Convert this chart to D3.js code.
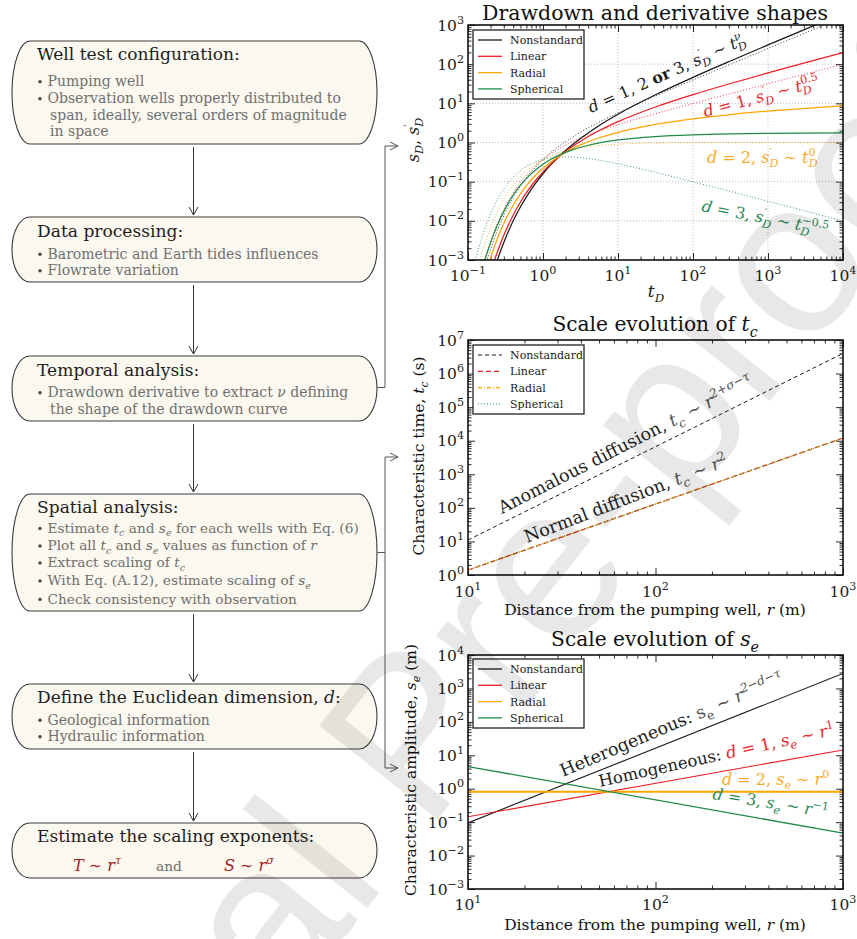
<!DOCTYPE html>
<html>
<head>
<meta charset="utf-8">
<script src="https://cdn.jsdelivr.net/npm/d3@7"></script>
<style>
  body { margin: 0; background: #fff; }
  svg text { font-family: "DejaVu Serif", serif; }
</style>
</head>
<body>
<svg id="fig" width="857" height="939"></svg>
<script>
// ---------- Drawdown and derivative shapes (dimensionless time) ----------
const tD = [0.1, 0.1259, 0.1585, 0.1995, 0.2512, 0.3162, 0.3981, 0.5012, 0.631, 0.7943,
            1, 1.259, 1.585, 1.995, 2.512, 3.162, 5.623, 10, 31.62, 100, 316.2, 1000, 3162, 10000];

// drawdown s_D
const sNonstandard = [5e-7, 7.2e-6, 5.26e-5, 2.78e-4, 1.118e-3, 3.605e-3, 9.74e-3, 0.02282, 0.04761, 0.09046,
                      0.1593, 0.2633, 0.4133, 0.6219, 0.9033, 1.274, 2.727, 5.277, 16.57, 46.01, 120.8, 309.5, 784.0, 1976];
const sLinear      = [1e-6, 1.35e-5, 9.2e-5, 4.75e-4, 1.782e-3, 5.406e-3, 0.01373, 0.03034, 0.05965, 0.1071,
                      0.1781, 0.2785, 0.4133, 0.5885, 0.8094, 1.0805, 2.017, 3.402, 8.056, 16.65, 32.13, 59.76, 109.0, 196.5];
const sRadial      = [4.16e-6, 4.01e-5, 2.526e-4, 1.132e-3, 3.868e-3, 0.01063, 0.02455, 0.04934, 0.08859, 0.1455,
                      0.2194, 0.3139, 0.4273, 0.5583, 0.7055, 0.8670, 1.320, 1.823, 2.908, 4.038, 5.183, 6.332, 7.482, 8.633];
const sSpherical   = [1.36e-5, 1.196e-4, 6.746e-4, 2.736e-3, 8.465e-3, 0.02111, 0.04431, 0.08111, 0.1330, 0.1995,
                      0.2788, 0.3678, 0.4632, 0.5615, 0.6597, 0.7559, 0.9765, 1.1605, 1.4205, 1.5731, 1.6601, 1.7092, 1.7369, 1.7525];

// drawdown derivative s'_D
const dNonstandard = [7.2e-6, 6.76e-5, 4.167e-4, 1.834e-3, 6.181e-3, 0.01685, 0.03882, 0.07825, 0.1418, 0.2362,
                      0.3679, 0.5433, 0.7691, 1.0528, 1.4032, 1.8309, 3.3325, 5.7091, 15.356, 39.415, 99.684, 250.94, 630.76, 1584.7];
const dLinear      = [1.44e-5, 1.26e-4, 7.24e-4, 2.974e-3, 9.356e-3, 0.02381, 0.05118, 0.09628, 0.1628, 0.2531,
                      0.3679, 0.5070, 0.6698, 0.8557, 1.0644, 1.2962, 1.9851, 2.8613, 5.4484, 9.9005, 17.727, 31.591, 56.216, 99.99];
const dRadial      = [4.54e-5, 3.55e-4, 1.818e-3, 6.657e-3, 0.01867, 0.04233, 0.08112, 0.1360, 0.2050, 0.2839,
                      0.3679, 0.4519, 0.5321, 0.6058, 0.6716, 0.7289, 0.8371, 0.9048, 0.9689, 0.9900, 0.9968, 0.9990, 0.9997, 0.9999];
const dSpherical   = [1.436e-4, 1.001e-3, 4.567e-3, 0.01490, 0.03725, 0.0753, 0.1285, 0.1921, 0.2580, 0.3186,
                      0.3679, 0.4028, 0.4226, 0.4289, 0.4238, 0.4099, 0.3530, 0.2861, 0.1723, 0.0990, 0.05605, 0.03159, 0.01778, 0.0100];

// ---------- Scale evolution of t_c and s_e ----------
const rDist = [10, 1000];
const tcNonstandard = [11, 4.0e6];
const tcLinear      = [1.4, 1.2e4];
const tcRadial      = [1.4, 1.2e4];
const tcSpherical   = [1.4, 1.2e4];

const seNonstandard = [0.095, 2800];
const seLinear      = [0.145, 14.4];
const seRadial      = [0.81, 0.81];
const seSpherical   = [4.6, 0.047];

const seriesNames = ["Nonstandard", "Linear", "Radial", "Spherical"];

// tick exponents
const expTopX = [-1, 0, 1, 2, 3, 4];
const expTopY = [-3, -2, -1, 0, 1, 2, 3];
const expDistX = [1, 2, 3];
const expTcY = [0, 1, 2, 3, 4, 5, 6, 7];
const expSeY = [-3, -2, -1, 0, 1, 2, 3, 4];

// ---------- styling ----------
const COL = { black: "#1a1a1a", red: "#ee1d25", orange: "#ffa500", green: "#218a4a" };
const TXT = { red: "#e8262d", orange: "#f7ab2a", green: "#2b8a55", grey: "#555" };

const svg = d3.select("#fig");

// text with italic / sub / superscript pieces; "under" stacks a subscript below the previous superscript
function rich(g, x, y, parts, o) {
  const size = o.size;
  const t = g.append("text").attr("x", x).attr("y", y)
    .attr("font-size", size).attr("fill", o.fill || "#111");
  if (o.anchor) t.attr("text-anchor", o.anchor);
  if (o.family) t.style("font-family", o.family);
  if (o.rotate) t.attr("transform", `rotate(${o.rotate},${x},${y})`);
  let shift = 0, prev = null;
  parts.forEach(p => {
    if (typeof p === "string") p = { t: p };
    const target = p.sub ? size * 0.28 : p.sup ? -size * 0.42 : 0;
    const s = t.append("tspan").attr("dy", target - shift).text(p.t);
    shift = target;
    if (p.sub || p.sup) s.attr("font-size", size * 0.7);
    if (p.i) s.attr("font-style", "italic");
    if (p.b) s.attr("font-weight", "bold");
    if (p.c) s.attr("fill", p.c);
    if (p.under && prev) s.attr("dx", -prev.node().getComputedTextLength());
    prev = s;
  });
  return t;
}

function powLabel(g, x, y, e, anchor, size) {
  const t = g.append("text").attr("x", x).attr("y", y).attr("font-size", size)
    .attr("text-anchor", anchor).attr("fill", "#222");
  t.append("tspan").text("10");
  t.append("tspan").attr("dy", -size * 0.45).attr("font-size", size * 0.72)
    .text(e < 0 ? "\u2212" + (-e) : String(e));
}

// log-log panel: frame, ticks on four sides, tick labels, optional grid
function panel(x, y, xe, ye, opt) {
  const g = svg.append("g");
  const [xl, xr] = x.range();
  const [yb, yt] = y.range();
  const isMajor = v => Math.abs(Math.log10(v) - Math.round(Math.log10(v))) < 1e-9;
  const xMaj = x.ticks().filter(isMajor), xMin = x.ticks().filter(v => !isMajor(v));
  const yMaj = y.ticks().filter(isMajor), yMin = y.ticks().filter(v => !isMajor(v));

  if (opt.grid) {
    const gg = g.append("g").attr("stroke", "#a8a8a8").attr("stroke-width", 0.8)
      .attr("stroke-dasharray", "1,2");
    xMaj.filter(v => x(v) > xl + 1 && x(v) < xr - 1).forEach(v =>
      gg.append("line").attr("x1", x(v)).attr("x2", x(v)).attr("y1", yt).attr("y2", yb));
    yMaj.filter(v => y(v) < yb - 1 && y(v) > yt + 1).forEach(v =>
      gg.append("line").attr("y1", y(v)).attr("y2", y(v)).attr("x1", xl).attr("x2", xr));
  }

  const ax = (axis, tx, ty, vals, len) => {
    const a = g.append("g").attr("transform", `translate(${tx},${ty})`)
      .call(axis.tickValues(vals).tickSize(-len).tickFormat(""));
    a.select(".domain").remove();
    a.selectAll("line").attr("stroke", "#111").attr("stroke-width", 0.9);
  };
  ax(d3.axisBottom(x), 0, yb, xMin, 3.5); ax(d3.axisBottom(x), 0, yb, xMaj, 7);
  ax(d3.axisTop(x), 0, yt, xMin, 3.5);    ax(d3.axisTop(x), 0, yt, xMaj, 7);
  ax(d3.axisLeft(y), xl, 0, yMin, 3.5);   ax(d3.axisLeft(y), xl, 0, yMaj, 7);
  ax(d3.axisRight(y), xr, 0, yMin, 3.5);  ax(d3.axisRight(y), xr, 0, yMaj, 7);

  xe.forEach(e => powLabel(g, x(Math.pow(10, e)), yb + opt.xLabDy, e, "middle", 15.5));
  ye.forEach(e => powLabel(g, xl - 4, y(Math.pow(10, e)) + 5.5, e, "end", 15.5));

  const id = "clip" + opt.id;
  svg.append("clipPath").attr("id", id).append("rect")
    .attr("x", xl).attr("y", yt).attr("width", xr - xl).attr("height", yb - yt);
  const plot = svg.append("g").attr("clip-path", `url(#${id})`);

  return { g, plot, frame: () => svg.append("rect").attr("x", xl).attr("y", yt)
      .attr("width", xr - xl).attr("height", yb - yt)
      .attr("fill", "none").attr("stroke", "#111").attr("stroke-width", 1.6) };
}

function legend(x0, y0, items) {
  const g = svg.append("g");
  g.append("rect").attr("x", x0).attr("y", y0).attr("width", 111).attr("height", 69)
    .attr("fill", "#fff").attr("stroke", "#222").attr("stroke-width", 1.3);
  items.forEach((it, i) => {
    const yy = y0 + 10 + i * 16.3;
    g.append("line").attr("x1", x0 + 5).attr("x2", x0 + 29).attr("y1", yy).attr("y2", yy)
      .attr("stroke", it.color).attr("stroke-width", it.w || 1.3)
      .attr("stroke-dasharray", it.dash || null);
    g.append("text").attr("x", x0 + 37).attr("y", yy + 4).attr("font-size", 11)
      .attr("fill", "#222").text(it.name);
  });
}

// s'_D with the prime and subscript stacked
const sPrimeD = [{ t: "s", i: 1 }, { t: "\u2032", sup: 1 }, { t: "D", sub: 1, i: 1, under: 1 }];

// ================= Panel 1: drawdown and derivative shapes =================
{
  const x = d3.scaleLog().domain([0.1, 1e4]).range([468, 843]);
  const y = d3.scaleLog().domain([1e-3, 1e3]).range([260, 25]);
  const p = panel(x, y, expTopX, expTopY, { grid: true, xLabDy: 21, id: "a" });
  const line = d3.line().x(d => x(d[0])).y(d => y(d[1])).curve(d3.curveMonotoneX);
  const shapes = [
    { c: COL.black, s: sNonstandard, d: dNonstandard },
    { c: COL.red, s: sLinear, d: dLinear },
    { c: COL.orange, s: sRadial, d: dRadial },
    { c: COL.green, s: sSpherical, d: dSpherical }
  ];
  shapes.forEach(sh => {
    p.plot.append("path").datum(d3.zip(tD, sh.d)).attr("d", line).attr("fill", "none")
      .attr("stroke", sh.c).attr("stroke-width", 1).attr("stroke-dasharray", "1,2").attr("opacity", 0.85);
  });
  shapes.forEach(sh => {
    p.plot.append("path").datum(d3.zip(tD, sh.s)).attr("d", line).attr("fill", "none")
      .attr("stroke", sh.c).attr("stroke-width", 1.25);
  });
  p.frame();
  legend(473, 30, seriesNames.map((n, i) => ({ name: n, color: shapes[i].c })));

  const A = svg.append("g");
  rich(A, 591, 113, [{ t: "d", i: 1 }, " = 1, 2 ", { t: "or", b: 1 }, " 3, ", ...sPrimeD, " \u223C ",
    { t: "t", i: 1 }, { t: "\u03BD", sup: 1, i: 1 }, { t: "D", sub: 1, i: 1, under: 1 }],
    { size: 16, fill: "#222", rotate: -24 });
  rich(A, 705, 117, [{ t: "d", i: 1 }, " = 1, ", ...sPrimeD, " \u223C ", { t: "t", i: 1 },
    { t: "0.5", sup: 1 }, { t: "D", sub: 1, i: 1, under: 1 }], { size: 16, fill: TXT.red, rotate: -15 });
  rich(A, 707, 163, [{ t: "d", i: 1 }, " = 2, ", ...sPrimeD, " \u223C ", { t: "t", i: 1 },
    { t: "0", sup: 1 }, { t: "D", sub: 1, i: 1, under: 1 }], { size: 16, fill: TXT.orange });
  rich(A, 701, 211, [{ t: "d", i: 1 }, " = 3, ", ...sPrimeD, " \u223C ", { t: "t", i: 1 },
    { t: "\u22120.5", sup: 1 }, { t: "D", sub: 1, i: 1, under: 1 }], { size: 16, fill: TXT.green, rotate: 11 });

  // titles and axis labels
  svg.append("text").attr("x", 655).attr("y", 20).attr("text-anchor", "middle")
    .attr("font-size", 20.5).attr("fill", "#111").text("Drawdown and derivative shapes");
  rich(svg, 656, 297, [{ t: "t", i: 1 }, { t: "D", sub: 1, i: 1 }], { size: 17, anchor: "middle", fill: "#222" });
  rich(svg, 419, 140, [{ t: "s", i: 1 }, { t: "D", sub: 1, i: 1 }, ", ", ...sPrimeD],
    { size: 16, anchor: "middle", rotate: -90, fill: "#222" });
}

// ================= Panel 2: scale evolution of t_c =================
{
  const x = d3.scaleLog().domain([10, 1000]).range([468, 843]);
  const y = d3.scaleLog().domain([1, 1e7]).range([575, 340]);
  const p = panel(x, y, expDistX, expTcY, { grid: false, xLabDy: 22, id: "b" });
  const line = d3.line().x(d => x(d[0])).y(d => y(d[1]));
  const sets = [
    { v: tcNonstandard, c: COL.black, dash: "4,3", w: 1 },
    { v: tcLinear, c: COL.red, dash: "5,3", w: 1.3 },
    { v: tcRadial, c: COL.orange, dash: "4,2,1,2", w: 1.1 },
    { v: tcSpherical, c: COL.green, dash: "1,2", w: 1 }
  ];
  sets.forEach(s => p.plot.append("path").datum(d3.zip(rDist, s.v)).attr("d", line)
    .attr("fill", "none").attr("stroke", s.c).attr("stroke-width", s.w).attr("stroke-dasharray", s.dash));
  p.frame();
  legend(473, 345, seriesNames.map((n, i) => ({ name: n, color: sets[i].c, dash: sets[i].dash, w: sets[i].w })));

  rich(svg, 502, 514, ["Anomalous diffusion, ", { t: "t", i: 1, c: TXT.grey }, { t: "c", sub: 1, i: 1, c: TXT.grey },
    { t: " \u223C ", c: TXT.grey }, { t: "r", i: 1, c: TXT.grey }, { t: "2+\u03C3\u2212\u03C4", sup: 1, i: 1, c: TXT.grey }],
    { size: 17.5, fill: "#222", rotate: -27 });
  rich(svg, 527, 543, ["Normal diffusion, ", { t: "t", i: 1, c: TXT.grey }, { t: "c", sub: 1, i: 1, c: TXT.grey },
    { t: " \u223C ", c: TXT.grey }, { t: "r", i: 1, c: TXT.grey }, { t: "2", sup: 1, c: TXT.grey }],
    { size: 17.5, fill: "#222", rotate: -21 });

  rich(svg, 655, 331, ["Scale evolution of ", { t: "t", i: 1 }, { t: "c", sub: 1, i: 1 }],
    { size: 20.2, anchor: "middle", fill: "#111" });
  rich(svg, 655, 615, ["Distance from the pumping well, ", { t: "r", i: 1 }, " (m)"],
    { size: 15.5, anchor: "middle", fill: "#111" });
  rich(svg, 424, 456, ["Characteristic time, ", { t: "t", i: 1 }, { t: "c", sub: 1, i: 1 }, " (s)"],
    { size: 15.5, anchor: "middle", rotate: -90, fill: "#111" });
}

// ================= Panel 3: scale evolution of s_e =================
{
  const x = d3.scaleLog().domain([10, 1000]).range([468, 843]);
  const y = d3.scaleLog().domain([1e-3, 1e4]).range([889, 655]);
  const p = panel(x, y, expDistX, expSeY, { grid: false, xLabDy: 21, id: "c" });
  const line = d3.line().x(d => x(d[0])).y(d => y(d[1]));
  const sets = [
    { v: seNonstandard, c: COL.black, w: 1.1 },
    { v: seLinear, c: COL.red, w: 1.1 },
    { v: seRadial, c: COL.orange, w: 1.8 },
    { v: seSpherical, c: COL.green, w: 1.3 }
  ];
  sets.forEach(s => p.plot.append("path").datum(d3.zip(rDist, s.v)).attr("d", line)
    .attr("fill", "none").attr("stroke", s.c).attr("stroke-width", s.w));
  p.frame();
  legend(473, 659, seriesNames.map((n, i) => ({ name: n, color: sets[i].c })));

  const se = [{ t: "s", i: 1 }, { t: "e", sub: 1, i: 1 }];
  rich(svg, 563, 777, ["Heterogeneous: ", { t: "s", c: TXT.grey }, { t: "e", sub: 1, c: TXT.grey },
    { t: " \u223C ", c: TXT.grey }, { t: "r", i: 1, c: TXT.grey }, { t: "2\u2212d\u2212\u03C4", sup: 1, i: 1, c: TXT.grey }],
    { size: 17.5, fill: "#222", rotate: -23 });
  rich(svg, 600, 787, ["Homogeneous: ", { t: "d", i: 1, c: TXT.red }, { t: " = 1, ", c: TXT.red },
    { t: "s", i: 1, c: TXT.red }, { t: "e", sub: 1, i: 1, c: TXT.red }, { t: " \u223C ", c: TXT.red },
    { t: "r", i: 1, c: TXT.red }, { t: "1", sup: 1, c: TXT.red }], { size: 16.5, fill: "#222", rotate: -12.5 });
  rich(svg, 722, 785, [{ t: "d", i: 1 }, " = 2, ", ...se, " \u223C ", { t: "r", i: 1 }, { t: "0", sup: 1 }],
    { size: 16, fill: TXT.orange });
  rich(svg, 712, 799, [{ t: "d", i: 1 }, " = 3, ", ...se, " \u223C ", { t: "r", i: 1 }, { t: "\u22121", sup: 1 }],
    { size: 16, fill: TXT.green, rotate: 9 });

  rich(svg, 655, 646, ["Scale evolution of ", { t: "s", i: 1 }, { t: "e", sub: 1, i: 1 }],
    { size: 20.2, anchor: "middle", fill: "#111" });
  rich(svg, 655, 930, ["Distance from the pumping well, ", { t: "r", i: 1 }, " (m)"],
    { size: 15.5, anchor: "middle", fill: "#111" });
  rich(svg, 416, 770, ["Characteristic amplitude, ", { t: "s", i: 1 }, { t: "e", sub: 1, i: 1 }, " (m)"],
    { size: 15.5, anchor: "middle", rotate: -90, fill: "#111" });
}

// ================= Workflow boxes =================
const BOX_FILL = "#fbf8ef", BOX_LINE = "#3a3a3a", BUL = "#707070";
const boxes = [
  { y0: 41, y1: 144, title: ["Well test configuration:"], tY: 60, lines: [
    { y: 86, p: ["Pumping well"] },
    { y: 103, p: ["Observation wells properly distributed to"] },
    { y: 120, p: ["span, ideally, several orders of magnitude"], cont: true },
    { y: 136, p: ["in space"], cont: true }] },
  { y0: 217, y1: 282, title: ["Data processing:"], tY: 237, lines: [
    { y: 258.5, p: ["Barometric and Earth tides influences"] },
    { y: 275, p: ["Flowrate variation"] }] },
  { y0: 356, y1: 421, title: ["Temporal analysis:"], tY: 375.5, lines: [
    { y: 397, p: ["Drawdown derivative to extract ", { t: "\u03BD", i: 1 }, " defining"] },
    { y: 413.5, p: ["the shape of the drawdown curve"], cont: true }] },
  { y0: 494, y1: 611, title: ["Spatial analysis:"], tY: 512.5, bsize: 13.7, lines: [
    { y: 532.5, p: ["Estimate ", { t: "t", i: 1 }, { t: "c", sub: 1, i: 1 }, " and ", { t: "s", i: 1 }, { t: "e", sub: 1, i: 1 }, " for each wells with Eq. (6)"] },
    { y: 550, p: ["Plot all ", { t: "t", i: 1 }, { t: "c", sub: 1, i: 1 }, " and ", { t: "s", i: 1 }, { t: "e", sub: 1, i: 1 }, " values as function of ", { t: "r", i: 1 }] },
    { y: 567, p: ["Extract scaling of ", { t: "t", i: 1 }, { t: "c", sub: 1, i: 1 }] },
    { y: 585, p: ["With Eq. (A.12), estimate scaling of ", { t: "s", i: 1 }, { t: "e", sub: 1, i: 1 }] },
    { y: 603.5, p: ["Check consistency with observation"] }] },
  { y0: 684, y1: 749, title: ["Define the Euclidean dimension, ", { t: "d", i: 1 }, ":"], tY: 703, lines: [
    { y: 724.5, p: ["Geological information"] },
    { y: 741, p: ["Hydraulic information"] }] },
  { y0: 823, y1: 878, title: ["Estimate the scaling exponents:"], tY: 841.5, lines: [] }
];

const flow = svg.append("g");
boxes.forEach(b => {
  flow.append("rect").attr("x", 12).attr("y", b.y0).attr("width", 365).attr("height", b.y1 - b.y0)
    .attr("rx", 18).attr("ry", (b.y1 - b.y0) / 2)
    .attr("fill", BOX_FILL).attr("stroke", BOX_LINE).attr("stroke-width", 1.1);
  rich(flow, 37, b.tY, b.title, { size: 17.1, fill: "#1e1e1e" });
  const bs = b.bsize || 14;
  b.lines.forEach(l => {
    if (!l.cont) flow.append("circle").attr("cx", 40).attr("cy", l.y - bs * 0.3).attr("r", 1.7).attr("fill", "#444");
    rich(flow, l.cont ? 50 : 47.5, l.y, l.p, { size: bs, fill: BUL });
  });
});
// scaling-exponent formulas
rich(flow, 73, 871, [{ t: "T", i: 1 }, " \u223C ", { t: "r", i: 1 }, { t: "\u03C4", sup: 1, i: 1 }],
  { size: 16, fill: "#a3242a" });
flow.append("text").attr("x", 156).attr("y", 871).attr("font-size", 13.8).attr("fill", BUL).text("and");
rich(flow, 224, 871, [{ t: "S", i: 1 }, " \u223C ", { t: "r", i: 1 }, { t: "\u03C3", sup: 1, i: 1 }],
  { size: 16, fill: "#a3242a" });

// vertical arrows between boxes
const arrowG = svg.append("g").attr("stroke", "#333").attr("stroke-width", 1).attr("fill", "none");
for (let i = 0; i < boxes.length - 1; i++) {
  const ya = boxes[i].y1 + 3, yb = boxes[i + 1].y0 - 2;
  arrowG.append("line").attr("x1", 193.5).attr("x2", 193.5).attr("y1", ya).attr("y2", yb);
  arrowG.append("polyline").attr("points", `${189},${yb - 8} ${193.5},${yb} ${198},${yb - 8}`);
}
// connectors to the panels
const conn = svg.append("g").attr("stroke", "#555").attr("stroke-width", 1).attr("fill", "none");
const rightArrow = (x0, x1, yy) => {
  conn.append("line").attr("x1", x0).attr("x2", x1).attr("y1", yy).attr("y2", yy);
  conn.append("polyline").attr("points", `${x1 - 8},${yy - 4} ${x1},${yy} ${x1 - 8},${yy + 4}`);
};
conn.append("polyline").attr("points", `377,387.5 385,387.5 385,146`);
rightArrow(385, 398, 146);
conn.append("line").attr("x1", 377).attr("x2", 385).attr("y1", 552.5).attr("y2", 552.5);
conn.append("line").attr("x1", 385).attr("x2", 385).attr("y1", 457).attr("y2", 768);
rightArrow(385, 398, 457);
rightArrow(385, 398, 768);

// manuscript-status watermark across the page
svg.append("text")
  .attr("transform", "translate(-60,1445) rotate(-51.5)")
  .style("font-family", '"Liberation Sans", Arial, sans-serif')
  .attr("font-size", 219.6).attr("fill", "#000").attr("fill-opacity", 0.09)
  .text("Journal Pre-proof");
</script>
</body>
</html>
